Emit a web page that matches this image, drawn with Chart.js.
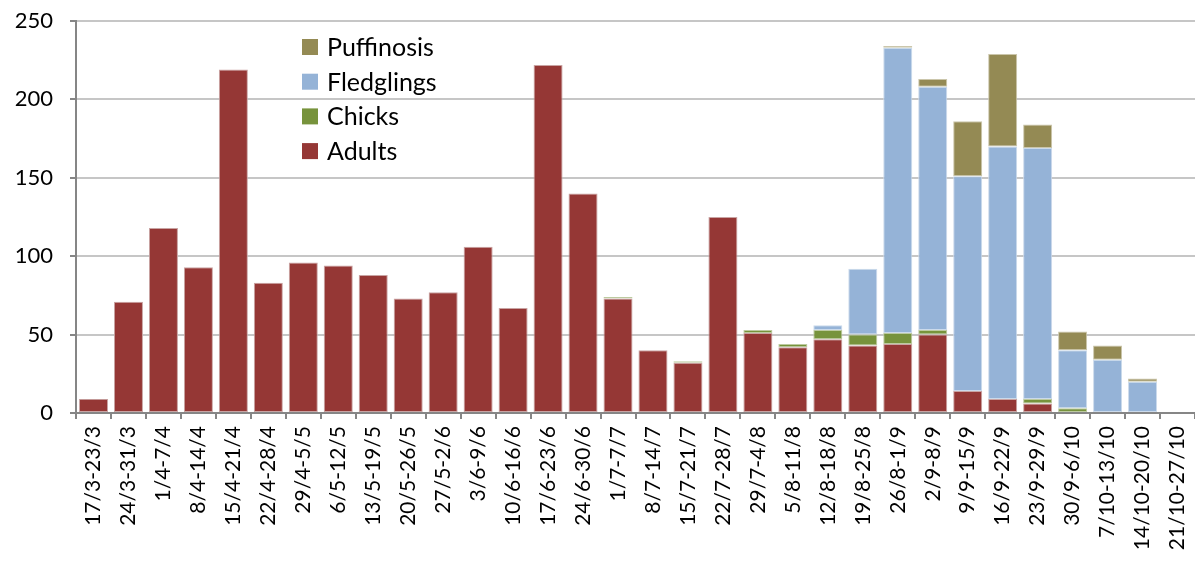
<!DOCTYPE html>
<html>
<head>
<meta charset="utf-8">
<script src="https://cdn.jsdelivr.net/npm/chart.js@4"></script>
<style>
  html, body { margin: 0; padding: 0; background: #fff; }
  #wrap { width: 1195px; height: 567px; }
</style>
</head>
<body>
<div id="wrap"><canvas id="barChart"></canvas></div>
<script>
// weekly periods
const weeks = ['17/3-23/3', '24/3-31/3', '1/4-7/4', '8/4-14/4', '15/4-21/4', '22/4-28/4',
  '29/4-5/5', '6/5-12/5', '13/5-19/5', '20/5-26/5', '27/5-2/6', '3/6-9/6', '10/6-16/6',
  '17/6-23/6', '24/6-30/6', '1/7-7/7', '8/7-14/7', '15/7-21/7', '22/7-28/7', '29/7-4/8',
  '5/8-11/8', '12/8-18/8', '19/8-25/8', '26/8-1/9', '2/9-8/9', '9/9-15/9', '16/9-22/9',
  '23/9-29/9', '30/9-6/10', '7/10-13/10', '14/10-20/10', '21/10-27/10'];

const adults = [9, 71, 118, 93, 219, 83, 96, 94, 88, 73, 77, 106, 67, 222, 140, 73, 40, 32, 125, 51,
  42, 47, 43, 44, 50, 14, 9, 6, 0, 0, 0, 0];
const chicks = [0, 0, 0, 0, 0, 0, 0, 0, 0, 0, 0, 0, 0, 0, 0, 1, 0, 1, 0, 2,
  2, 6, 7, 7, 3, 0, 0, 3, 3, 0, 0, 0];
const fledglings = [0, 0, 0, 0, 0, 0, 0, 0, 0, 0, 0, 0, 0, 0, 0, 0, 0, 0, 0, 0,
  0, 3, 42, 182, 155, 137, 161, 160, 37, 34, 20, 0];
const puffinosis = [0, 0, 0, 0, 0, 0, 0, 0, 0, 0, 0, 0, 0, 0, 0, 0, 0, 0, 0, 0,
  0, 0, 0, 1, 5, 35, 59, 15, 12, 9, 2, 0];

const yTicks = [0, 50, 100, 150, 200, 250];

const FONT = 'Lato, "Open Sans", sans-serif';

// legend drawn inside the plot area, top-left like the original
const insideLegend = {
  id: 'insideLegend',
  afterDraw(chart) {
    const ctx = chart.ctx;
    const sets = chart.data.datasets.slice().reverse();
    ctx.save();
    ctx.font = '25px ' + FONT;
    ctx.textBaseline = 'middle';
    sets.forEach(function(ds, i) {
      const y = 47 + i * 34.7;
      ctx.fillStyle = ds.backgroundColor;
      ctx.fillRect(302, y - 8, 16, 16);
      ctx.fillStyle = '#000';
      ctx.fillText(ds.label, 327, y + 1);
    });
    ctx.restore();
  }
};

document.addEventListener('DOMContentLoaded', function() {
  const ctx = document.getElementById('barChart').getContext('2d');

  new Chart(ctx, {
    type: 'bar',
    data: {
      labels: weeks,
      datasets: [
        { label: 'Adults', data: adults, backgroundColor: '#953735', borderColor: '#c9a4a3' },
        { label: 'Chicks', data: chicks, backgroundColor: '#77933C', borderColor: '#bccaa0' },
        { label: 'Fledglings', data: fledglings, backgroundColor: '#95B3D7', borderColor: '#cbdaeb' },
        { label: 'Puffinosis', data: puffinosis, backgroundColor: '#948A54', borderColor: '#cbc6ab' }
      ]
    },
    plugins: [insideLegend],
    options: {
      responsive: true,
      maintainAspectRatio: false,
      animation: false,
      layout: { padding: { top: 21, right: -3, left: 0, bottom: 0 } },
      datasets: {
        bar: {
          barPercentage: 0.83,
          categoryPercentage: 1.0,
          borderWidth: 1,
          borderSkipped: false
        }
      },
      plugins: {
        legend: { display: false },
        tooltip: { enabled: false }
      },
      scales: {
        x: {
          stacked: true,
          afterFit: function(scale) {
            scale.height = 154;
            scale.paddingLeft = 0;
            scale.paddingRight = 0;
          },
          grid: {
            drawOnChartArea: false,
            drawTicks: true,
            tickLength: 6,
            tickColor: '#868686',
            lineWidth: 2
          },
          border: { color: '#868686', width: 2 },
          ticks: {
            color: '#000',
            font: { family: FONT, size: 21 },
            minRotation: 90,
            maxRotation: 90,
            autoSkip: false,
            padding: 7
          }
        },
        y: {
          stacked: true,
          min: 0,
          max: 250,
          afterFit: function(scale) {
            scale.width = 76;
            scale.paddingTop = 0;
            scale.paddingBottom = 0;
          },
          afterBuildTicks: function(scale) {
            scale.ticks = yTicks.map(function(v) { return { value: v }; });
          },
          grid: {
            color: '#c6c6c6',
            lineWidth: 2,
            tickLength: 6,
            tickColor: '#868686'
          },
          border: { color: '#868686', width: 2 },
          ticks: {
            color: '#000',
            font: { family: FONT, size: 22 },
            padding: 17
          }
        }
      }
    }
  });
});
</script>
</body>
</html>
